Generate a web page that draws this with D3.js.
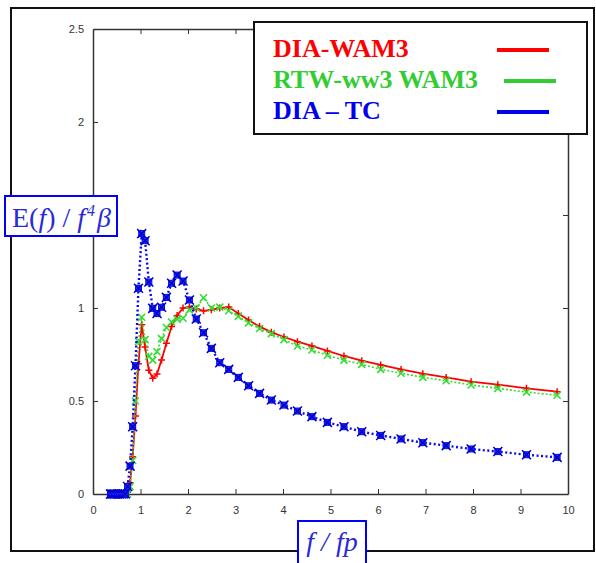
<!DOCTYPE html>
<html><head><meta charset="utf-8">
<script src="https://cdn.jsdelivr.net/npm/d3@7"></script>
<style>body{margin:0;background:#fff}svg{display:block}</style>
</head><body>
<svg id="c" width="596" height="563"></svg>
<script>
// frequency grid f/fp
const freqs = [0.368,0.394,0.422,0.452,0.484,0.518,0.554,0.593,0.635,0.680,0.728,0.780,0.835,0.894,0.957,
  1.025,1.097,1.175,1.258,1.347,1.443,1.545,1.654,1.771,1.896,2.030,2.174,2.327,2.492,2.668,2.857,
  3.059,3.275,3.507,3.755,4.020,4.304,4.609,4.935,5.283,5.657,6.057,6.485,6.944,7.435,7.960,8.523,9.126,9.771];
// DIA-WAM3 (starts at freqs index 9)
const diaWam3 = [0,0.01,0.06,0.20,0.42,0.70,0.91,0.79,0.665,0.622,0.645,0.72,0.81,0.90,0.96,1.0,1.005,0.995,0.985,0.99,1.0,1.005,
  0.97,0.935,0.90,0.87,0.844,0.819,0.796,0.769,0.742,0.717,0.694,0.670,0.647,0.627,0.604,0.588,0.568,0.550];
// RTW-ww3 WAM3 (starts at freqs index 9)
const rtwWam3 = [0,0,0.04,0.18,0.50,0.82,0.95,0.83,0.74,0.72,0.765,0.835,0.895,0.925,0.94,0.945,0.99,1.0,1.055,1.0,1.005,0.985,
  0.955,0.92,0.89,0.862,0.83,0.796,0.774,0.746,0.72,0.697,0.670,0.649,0.627,0.609,0.586,0.568,0.548,0.531];
// DIA-TC (starts at freqs index 0)
const diaTC = [0,0,0,0,0,0,0,0,0,0,0.04,0.15,0.362,0.69,1.106,1.40,1.362,1.14,0.998,0.97,1.004,1.057,1.133,1.177,1.145,1.043,
  0.941,0.867,0.783,0.706,0.670,0.627,0.582,0.541,0.505,0.478,0.446,0.416,0.385,0.362,0.335,0.315,0.296,0.276,0.260,0.242,0.228,0.211,0.197];
const xTicks = [0,1,2,3,4,5,6,7,8,9,10];
const yTicks = [0,0.5,1,1.5,2,2.5];
const yTickLabels = ["0","0.5","1","","2","2.5"]; // 1.5 is hidden behind the y-label box
const legendLabels = ["DIA-WAM3","RTW-ww3 WAM3","DIA \u2013 TC"];

const svg = d3.select("#c");
const x = d3.scaleLinear().domain([0,10]).range([93,568]);
const y = d3.scaleLinear().domain([0,2.5]).range([494,29]);

// outer frame
svg.append("rect").attr("x",11).attr("y",8).attr("width",583).attr("height",543)
  .attr("fill","none").attr("stroke","#111").attr("stroke-width",2);

// axes
const axCol = "#333";
function styleAx(g){ g.selectAll("path").attr("stroke",axCol).attr("stroke-width",1.5);
  g.selectAll("line").attr("stroke",axCol).attr("stroke-width",1);
  g.selectAll("text").attr("fill","#333").style("font-family","'Liberation Sans',Arial,sans-serif").style("font-size","11px"); }
svg.append("g").attr("transform","translate(0,494)")
  .call(d3.axisBottom(x).tickValues(xTicks).tickSizeInner(-5).tickSizeOuter(0).tickPadding(12).tickFormat(d3.format("d"))).call(styleAx);
svg.append("g").attr("transform","translate(0,29)")
  .call(d3.axisTop(x).tickValues(xTicks).tickSizeInner(-5).tickSizeOuter(0).tickFormat("")).call(styleAx);
svg.append("g").attr("transform","translate(93,0)")
  .call(d3.axisLeft(y).tickValues(yTicks).tickSizeInner(-5).tickSizeOuter(0).tickPadding(9).tickFormat((d,i)=>yTickLabels[i])).call(styleAx);
svg.append("g").attr("transform","translate(568,0)")
  .call(d3.axisRight(y).tickValues(yTicks).tickSizeInner(-5).tickSizeOuter(0).tickFormat("")).call(styleAx);

const colRed="#ff0000", colGreen="#33dd33", colBlue="#0a0af0";
function series(vals, offset){ return vals.map((v,i)=>({f:freqs[i+offset], v:v})); }
const red = series(diaWam3,9), green = series(rtwWam3,9), blue = series(diaTC,0);
const line = d3.line().x(d=>x(d.f)).y(d=>y(d.v));

// red: solid + plus markers
svg.append("path").datum(red).attr("d",line).attr("fill","none").attr("stroke",colRed).attr("stroke-width",1.8);
svg.append("g").selectAll("path").data(red).join("path")
  .attr("d",d=>{const cx=x(d.f),cy=y(d.v);return `M${cx-3.5},${cy}H${cx+3.5}M${cx},${cy-3.5}V${cy+3.5}`;})
  .attr("stroke",colRed).attr("stroke-width",1.5);

// green: dotted + x markers
svg.append("path").datum(green).attr("d",line).attr("fill","none").attr("stroke",colGreen).attr("stroke-width",1.6).attr("stroke-dasharray","2,2");
svg.append("g").selectAll("path").data(green).join("path")
  .attr("d",d=>{const cx=x(d.f),cy=y(d.v);return `M${cx-3.5},${cy-3.5}L${cx+3.5},${cy+3.5}M${cx-3.5},${cy+3.5}L${cx+3.5},${cy-3.5}`;})
  .attr("stroke",colGreen).attr("stroke-width",1.6);

// blue: dotted + boxed-x markers
svg.append("path").datum(blue).attr("d",line).attr("fill","none").attr("stroke",colBlue).attr("stroke-width",2.4).attr("stroke-dasharray","2,2.5");
const bm = svg.append("g").selectAll("g").data(blue).join("g").attr("transform",d=>`translate(${x(d.f)},${y(d.v)})`);
bm.append("rect").attr("x",-3).attr("y",-3).attr("width",6).attr("height",6).attr("fill","#2233dd").attr("stroke",colBlue).attr("stroke-width",1);
bm.append("path").attr("d","M-4.5,-4.5L4.5,4.5M-4.5,4.5L4.5,-4.5").attr("stroke","#0000cc").attr("stroke-width",1.5);

// legend
const lg = svg.append("g");
lg.append("rect").attr("x",254).attr("y",22).attr("width",333).attr("height",112).attr("fill","#fff").attr("stroke","#111").attr("stroke-width",2);
const lcols=["#ff0000","#33cc33","#0000ee"];
const lys=[57,88,119];
const lineX=[[497,549],[504,556],[497,549]];
legendLabels.forEach((t,i)=>{
  lg.append("text").attr("x",273).attr("y",lys[i]).text(t).attr("fill",lcols[i])
    .style("font-family","'Liberation Serif','Times New Roman',serif").style("font-weight","bold").style("font-size","26px");
  lg.append("line").attr("x1",lineX[i][0]).attr("x2",lineX[i][1]).attr("y1",lys[i]-7).attr("y2",lys[i]-7)
    .attr("stroke",lcols[i]).attr("stroke-width",4);
});

// y label box
svg.append("rect").attr("x",5).attr("y",196).attr("width",112).attr("height",40).attr("fill","#fff").attr("stroke","#0000ff").attr("stroke-width",2);
const yl = svg.append("text").attr("x",12).attr("y",227).attr("fill","#2a2ad8")
  .style("font-family","'Liberation Serif','Times New Roman',serif").style("font-size","28px");
yl.append("tspan").text("E(");
yl.append("tspan").text("f").style("font-style","italic");
yl.append("tspan").text(") / ");
yl.append("tspan").text("f").style("font-style","italic");
yl.append("tspan").text("4").attr("dy",-11).attr("dx",2).style("font-size","16px").style("font-style","italic");
yl.append("tspan").text("\u03b2").attr("dy",11).attr("dx",2).style("font-style","italic");

// x label box
svg.append("rect").attr("x",298).attr("y",521).attr("width",68).attr("height",50).attr("fill","#fff").attr("stroke","#0000ff").attr("stroke-width",2);
svg.append("text").attr("x",332).attr("y",551).attr("text-anchor","middle").attr("fill","#2a2ad8")
  .style("font-family","'Liberation Serif','Times New Roman',serif").style("font-size","28px").style("font-style","italic").text("f / fp");
</script>
</body></html>
